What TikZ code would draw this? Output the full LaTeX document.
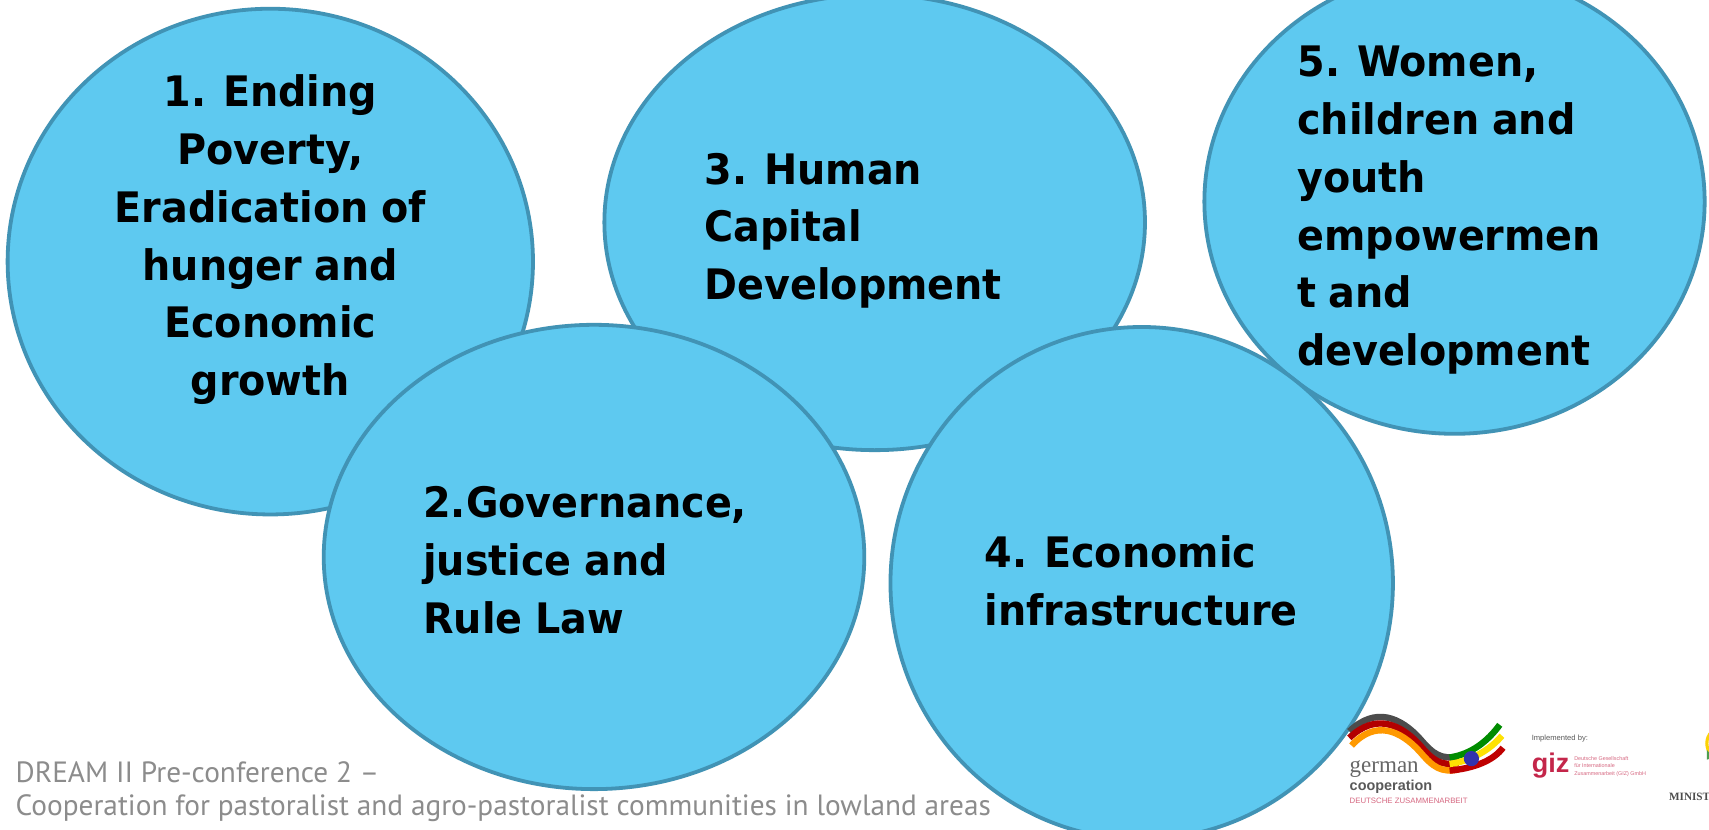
\documentclass[tikz,border=0pt]{standalone}
\usepackage{fontspec}
\usetikzlibrary{shapes.geometric}
\setmainfont[FakeStretch=0.945,WordSpace=0.9]{DejaVu Sans}
\newfontfamily\footfont{PT Sans}
\newfontfamily\logofont{Liberation Serif}
\newfontfamily\smallfont{Liberation Sans}
\definecolor{blobfill}{HTML}{5EC9F0}
\definecolor{blobline}{HTML}{4193B5}
\definecolor{foot}{HTML}{8C8C8C}
\definecolor{gizred}{HTML}{C4264A}
\tikzset{
  blob/.style 2 args={ellipse,draw=blobline,fill=blobfill,line width=1.9pt,inner sep=0pt,
     minimum width=#1*1.09pt,minimum height=#2*1.09pt},
  lab/.style={font=\bfseries\fontsize{21}{28.9}\selectfont,text=black,inner sep=0pt},
  footlab/.style={font=\footfont\fontsize{14.65}{16.4}\selectfont,text=foot,inner sep=0pt,align=left,anchor=south west},
  tiny/.style={inner sep=0pt,anchor=west},
  band/.style={line width=3.2pt}
}
\begin{document}
\begin{tikzpicture}[x=0.545pt,y=-0.545pt]
\useasboundingbox (0,0) rectangle (1568,760.6);
\clip (0,0) rectangle (1568,760.6);
\fill[white] (0,0) rectangle (1568,760.6);
\node[blob={241}{232}] (e1) at (248,240) {};
\node[blob={248}{209}] (e3) at (802.5,204) {};
\node[blob={229.5}{213}] (e5) at (1334.5,185) {};
\node[blob={248}{213}] (e2) at (545,511) {};
\node[blob={230.5}{235}] (e4) at (1047.5,535) {};
\node[lab,align=center] (t1) at (248,220) {1. Ending\\Poverty,\\Eradication of\\hunger and\\Economic\\growth};
\node[lab,align=left,anchor=north west] (t3) at (646,140) {3. Human\\Capital\\Development};
\node[lab,align=left,anchor=north west] (t5) at (1190,42) {5. Women,\\children and\\youth\\empowermen\\t and\\development};
\node[lab,align=left,anchor=north west] (t2) at (388,446) {2.Governance,\\justice and\\Rule Law};
\node[lab,align=left,anchor=north west] (t4) at (903,491) {4. Economic\\infrastructure};
\node[footlab] (foot) at (14,754) {DREAM II Pre-conference 2 –\\Cooperation for pastoralist and agro-pastoralist communities in lowland areas};
% german cooperation swoosh
\draw[band,color=black!70] (1238,671) .. controls (1262,648) and (1285,658) .. (1303,678) .. controls (1315,692) and (1322,697) .. (1338,694);
\draw[band,color=red!70!black] (1238,677) .. controls (1262,654) and (1285,664) .. (1303,684) .. controls (1315,698) and (1322,703) .. (1338,700);
\draw[band,color=orange!80!yellow] (1240,684) .. controls (1262,660) and (1285,670) .. (1303,690) .. controls (1315,704) and (1322,709) .. (1338,706);
\draw[band,color=green!55!black] (1330,695) .. controls (1350,692) and (1365,680) .. (1376,665);
\draw[band,color=yellow!85!orange] (1330,701) .. controls (1350,698) and (1367,688) .. (1378,675);
\draw[band,color=red!75!black] (1330,707) .. controls (1352,705) and (1370,698) .. (1379,686);
\fill[blue!60!black!80] (1350,696) circle (7);
\node[tiny,font=\logofont\fontsize{11.5}{12}\selectfont,text=black!60] (lg1) at (1238,706) {german};
\node[tiny,font=\smallfont\bfseries\fontsize{7.2}{8}\selectfont,text=black!65] (lg2) at (1238,722) {cooperation};
\node[tiny,font=\smallfont\fontsize{3.9}{5}\selectfont,text=gizred!70] (lg3) at (1238,735) {DEUTSCHE ZUSAMMENARBEIT};
\node[tiny,font=\smallfont\fontsize{3.8}{5}\selectfont,text=black!65] (lg4) at (1405,678) {Implemented by:};
\node[tiny,font=\smallfont\bfseries\fontsize{13.5}{14}\selectfont,text=gizred] (lg5) at (1405,702) {giz};
\node[tiny,font=\smallfont\fontsize{2.7}{3.8}\selectfont,text=gizred!70,align=left] (lg6) at (1444,703) {Deutsche Gesellschaft\\für Internationale\\Zusammenarbeit (GIZ) GmbH};
\node[tiny,font=\logofont\bfseries\fontsize{5.6}{6}\selectfont,text=black!70] (lg7) at (1531,731) {MINIST};
\draw[line width=1.6pt,color=yellow!70!orange] (1581,682) circle (15);
\fill[green!45!black!70] (1566,688) -- (1572,695) -- (1566,697) -- cycle;
\end{tikzpicture}
\end{document}
